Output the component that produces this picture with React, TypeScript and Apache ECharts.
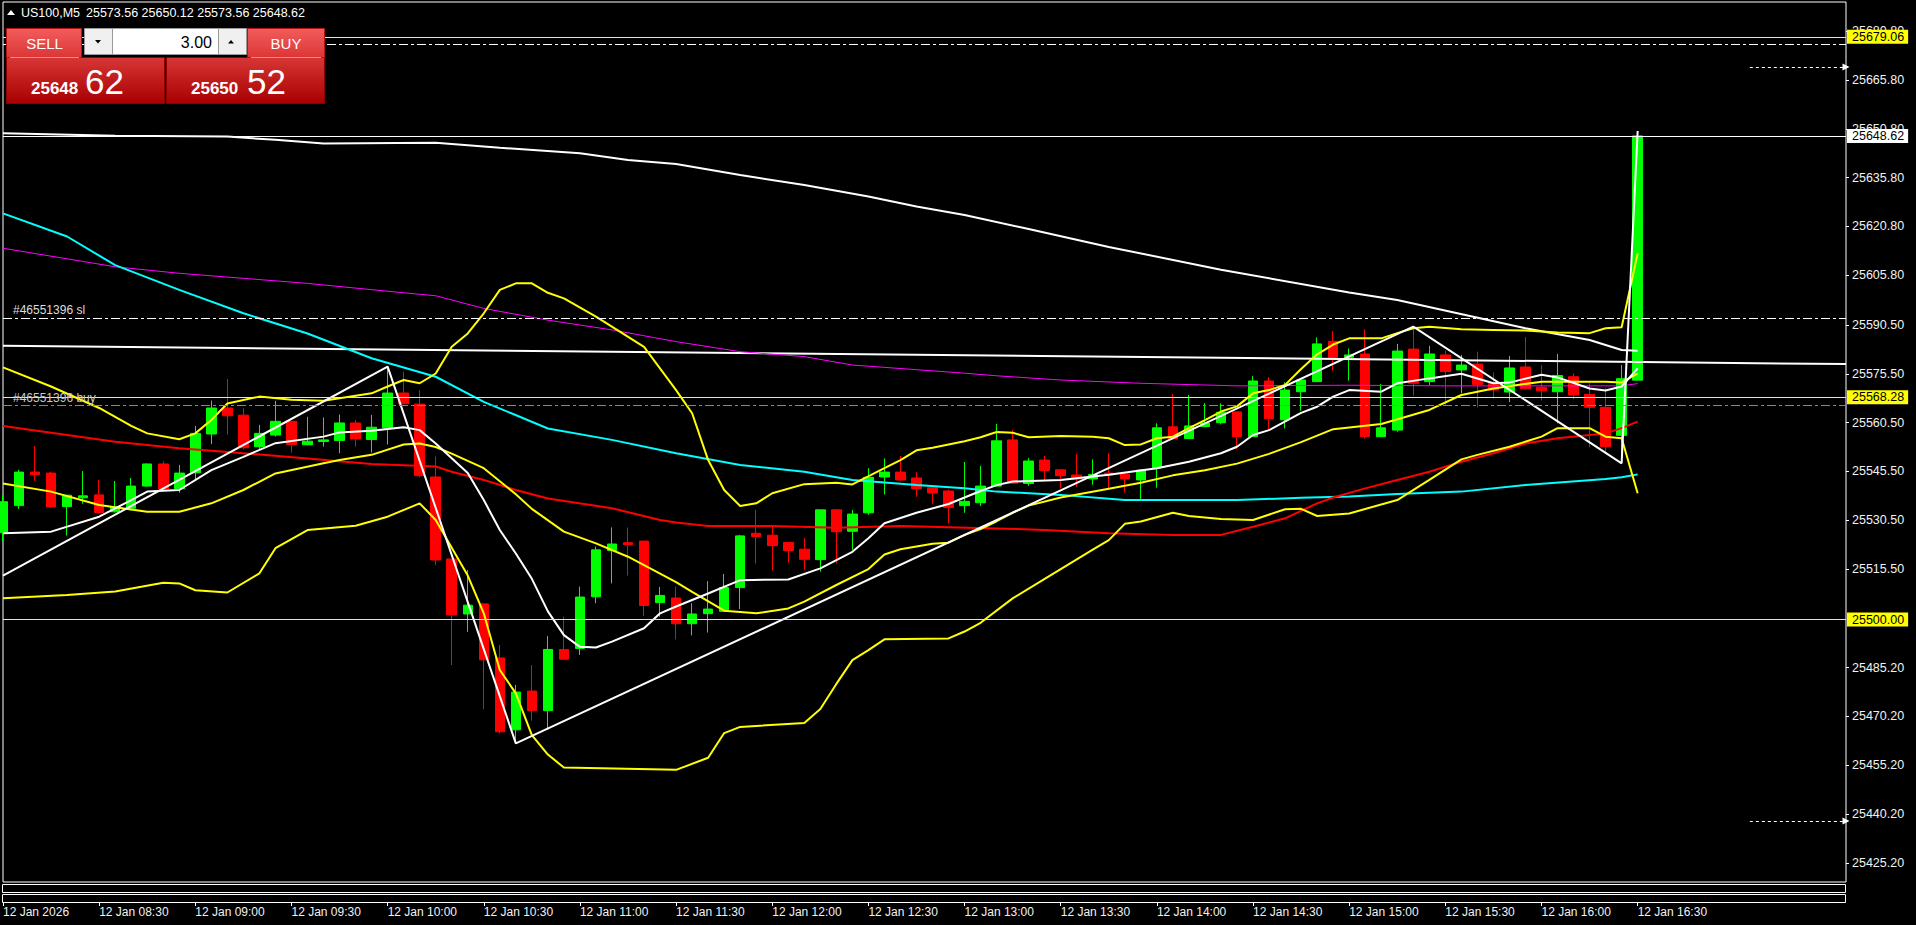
import React, { useEffect, useRef } from 'react';
import * as echarts from 'echarts';

const FONT = '"Liberation Sans", Arial, sans-serif';

// ---------- header / trade panel ----------
const symbolName = 'US100,M5';
const lotSize = '3.00';
const bidPrice = 25648.62;
const askPrice = 25650.52;

// ---------- axis ----------
const Y_MIN = 25419.33;
const Y_MAX = 25689.77;
const yTickValues = [25680.8, 25665.8, 25650.8, 25635.8, 25620.8, 25605.8, 25590.5, 25575.5, 25560.5, 25545.5, 25530.5, 25515.5, 25485.2, 25470.2, 25455.2, 25440.2, 25425.2];
const xTickLabels = ['12 Jan 2026', '12 Jan 08:30', '12 Jan 09:00', '12 Jan 09:30', '12 Jan 10:00', '12 Jan 10:30', '12 Jan 11:00', '12 Jan 11:30', '12 Jan 12:00', '12 Jan 12:30', '12 Jan 13:00', '12 Jan 13:30', '12 Jan 14:00', '12 Jan 14:30', '12 Jan 15:00', '12 Jan 15:30', '12 Jan 16:00', '12 Jan 16:30'];
const BAR_SLOTS = 116; // 103 bars + chart shift

// ---------- candles: [open, close, low, high] ----------
const candles = [
  [25526.7, 25536.2, 25523.9, 25538.3], [25535.0, 25545.3, 25534.0, 25546.0], [25545.3, 25544.5, 25542.6, 25553.3], [25545.0, 25534.6, 25534.3, 25545.4],
  [25534.7, 25538.2, 25525.8, 25538.2], [25537.4, 25538.0, 25535.6, 25545.6], [25538.3, 25532.9, 25532.6, 25542.9], [25533.1, 25534.6, 25532.9, 25542.6],
  [25534.2, 25541.0, 25533.5, 25543.5], [25541.0, 25547.8, 25540.8, 25548.0], [25547.8, 25540.1, 25539.8, 25548.6], [25540.2, 25545.0, 25539.0, 25547.5],
  [25545.1, 25557.2, 25543.1, 25559.5], [25557.0, 25565.0, 25553.9, 25567.3], [25565.0, 25562.6, 25556.8, 25573.9], [25562.8, 25552.8, 25552.3, 25564.9],
  [25553.1, 25557.2, 25552.1, 25559.8], [25556.7, 25560.9, 25556.2, 25567.2], [25560.9, 25553.8, 25551.3, 25561.0], [25553.7, 25554.8, 25553.5, 25562.3],
  [25554.7, 25555.2, 25553.1, 25562.1], [25555.0, 25560.4, 25551.1, 25563.0], [25560.4, 25555.5, 25553.1, 25561.3], [25555.3, 25559.1, 25551.3, 25562.9],
  [25558.9, 25569.6, 25553.8, 25577.7], [25569.6, 25566.3, 25566.2, 25576.2], [25566.2, 25544.2, 25543.7, 25570.5], [25543.8, 25518.3, 25516.8, 25550.1],
  [25518.6, 25501.4, 25486.0, 25518.6], [25501.7, 25504.4, 25496.2, 25515.2], [25504.8, 25487.6, 25472.4, 25505.0], [25488.2, 25465.5, 25465.0, 25492.2],
  [25466.1, 25477.7, 25461.95, 25479.9], [25478.0, 25472.0, 25468.9, 25486.0], [25472.0, 25490.8, 25466.1, 25494.9], [25490.8, 25487.8, 25487.7, 25500.9],
  [25491.1, 25506.9, 25489.1, 25510.1], [25507.0, 25521.4, 25505.0, 25522.4], [25521.2, 25523.2, 25511.1, 25528.3], [25523.6, 25523.0, 25513.5, 25528.3],
  [25524.1, 25504.3, 25501.1, 25524.2], [25505.2, 25507.4, 25500.9, 25510.0], [25506.6, 25498.7, 25493.9, 25510.1], [25498.7, 25501.7, 25495.1, 25505.0],
  [25501.8, 25503.2, 25496.0, 25511.8], [25502.5, 25509.8, 25502.4, 25514.0], [25509.8, 25525.7, 25503.2, 25526.0], [25526.5, 25525.5, 25517.2, 25533.7],
  [25525.9, 25522.7, 25515.0, 25528.9], [25523.7, 25521.2, 25517.5, 25523.8], [25521.6, 25518.5, 25515.2, 25525.0], [25518.4, 25533.7, 25514.7, 25533.7],
  [25533.7, 25527.0, 25517.2, 25534.0], [25527.1, 25532.4, 25521.4, 25533.7], [25532.8, 25543.7, 25532.2, 25546.5], [25543.8, 25545.3, 25538.4, 25549.5],
  [25545.3, 25542.9, 25542.5, 25550.3], [25543.5, 25540.2, 25537.7, 25545.3], [25540.5, 25538.9, 25535.6, 25540.6], [25539.5, 25534.4, 25529.5, 25540.0],
  [25535.0, 25536.3, 25532.8, 25548.4], [25535.9, 25541.0, 25534.9, 25547.2], [25541.0, 25554.9, 25540.9, 25560.1], [25555.2, 25541.9, 25541.7, 25558.2],
  [25541.8, 25548.7, 25541.1, 25549.6], [25549.0, 25545.8, 25542.9, 25550.3], [25546.0, 25544.2, 25540.3, 25546.1], [25544.4, 25543.2, 25540.8, 25550.9],
  [25543.2, 25544.6, 25541.4, 25549.2], [25545.0, 25544.4, 25540.3, 25551.1], [25544.7, 25543.2, 25539.0, 25544.8], [25542.9, 25545.9, 25536.9, 25546.2],
  [25546.6, 25558.9, 25540.5, 25560.3], [25559.2, 25555.5, 25555.4, 25569.3], [25555.6, 25559.5, 25555.5, 25569.0], [25559.3, 25560.4, 25559.1, 25566.5],
  [25560.5, 25563.7, 25560.0, 25566.4], [25563.8, 25556.2, 25552.3, 25563.9], [25556.2, 25573.3, 25556.1, 25574.8], [25573.3, 25561.7, 25558.2, 25574.5],
  [25561.4, 25570.5, 25558.7, 25572.9], [25570.0, 25573.6, 25564.2, 25573.7], [25573.1, 25584.7, 25573.0, 25586.7], [25585.5, 25580.5, 25576.5, 25588.6],
  [25580.6, 25581.3, 25573.4, 25583.3], [25581.6, 25556.2, 25555.6, 25589.2], [25556.2, 25558.9, 25556.1, 25572.4], [25558.2, 25582.5, 25557.7, 25584.7],
  [25583.1, 25572.6, 25568.8, 25590.0], [25573.1, 25581.6, 25572.1, 25584.1], [25581.3, 25576.2, 25565.8, 25582.6], [25576.7, 25578.2, 25569.5, 25581.3],
  [25578.5, 25572.2, 25565.2, 25582.3], [25572.6, 25570.5, 25567.9, 25575.9], [25569.9, 25577.3, 25566.8, 25581.0], [25577.6, 25570.9, 25570.7, 25586.8],
  [25571.4, 25570.3, 25567.3, 25578.2], [25570.0, 25575.0, 25560.3, 25581.6], [25574.6, 25569.0, 25567.7, 25575.7], [25569.2, 25565.2, 25552.9, 25572.6],
  [25565.2, 25553.1, 25551.6, 25571.2], [25556.6, 25574.0, 25548.0, 25578.2], [25573.56, 25648.62, 25573.56, 25650.12],
];

// ---------- indicator lines: [barIndex, value] ----------
const bbUpper = [[0, 25577.5], [3, 25571.6], [6, 25565.0], [8, 25559.5], [9, 25557.2], [11, 25555.4], [12, 25557.2], [13, 25561.3], [14, 25566.4], [16, 25568.5], [18, 25567.5], [20, 25567.2], [23, 25569.5], [24, 25571.6], [25, 25573.6], [26, 25572.6], [27, 25575.6], [28, 25583.8], [29, 25587.9], [30, 25594.1], [31, 25601.3], [32, 25603.3], [33, 25603.3], [34, 25600.4], [35, 25598.7], [37, 25593.1], [40, 25583.8], [42, 25570.5], [43, 25563.4], [44, 25549.0], [45, 25539.8], [46, 25534.9], [47, 25535.7], [48, 25538.8], [50, 25541.6], [52, 25542.0], [53, 25541.5], [55, 25546.5], [56, 25549.0], [57, 25552.0], [58, 25552.8], [60, 25554.8], [61, 25556.0], [62, 25557.6], [63, 25557.4], [64, 25556.0], [66, 25556.4], [68, 25556.2], [69, 25555.7], [70, 25553.6], [71, 25553.8], [72, 25555.7], [73, 25556.2], [74, 25558.8], [75, 25561.3], [76, 25563.9], [77, 25565.5], [78, 25569.5], [79, 25570.5], [80, 25572.1], [81, 25577.0], [82, 25581.5], [83, 25584.5], [84, 25586.4], [86, 25586.4], [87, 25588.0], [88, 25589.5], [89, 25590.0], [91, 25589.2], [93, 25589.0], [95, 25588.8], [97, 25588.2], [99, 25588.0], [100, 25589.5], [101, 25589.8], [102, 25612.5]];
const bbMiddle = [[0, 25541.8], [3, 25539.3], [6, 25535.2], [9, 25533.1], [11, 25533.1], [13, 25535.7], [15, 25539.8], [17, 25544.9], [20, 25548.0], [21, 25549.0], [23, 25550.6], [25, 25553.8], [26, 25554.1], [27, 25553.0], [28, 25551.0], [30, 25546.5], [32, 25538.5], [33, 25534.0], [35, 25527.0], [37, 25523.4], [39, 25519.3], [42, 25511.5], [43, 25508.5], [45, 25502.7], [47, 25501.9], [49, 25503.4], [50, 25505.5], [52, 25510.6], [54, 25515.5], [55, 25520.0], [56, 25521.6], [58, 25523.3], [59, 25523.6], [60, 25526.0], [61, 25527.8], [62, 25530.2], [63, 25532.8], [64, 25535.0], [66, 25537.5], [69, 25540.2], [71, 25542.0], [73, 25544.3], [75, 25545.9], [77, 25547.9], [79, 25550.9], [81, 25554.5], [83, 25558.5], [86, 25560.1], [89, 25564.4], [91, 25569.0], [93, 25571.0], [96, 25573.1], [100, 25573.1], [101, 25572.8], [102, 25575.6]];
const bbLower = [[0, 25506.5], [4, 25507.5], [7, 25508.6], [10, 25511.3], [11, 25511.1], [12, 25509.0], [14, 25508.3], [16, 25514.2], [17, 25521.9], [19, 25527.5], [22, 25528.8], [24, 25531.6], [26, 25535.7], [27, 25530.6], [29, 25513.5], [30, 25501.9], [31, 25484.5], [32, 25477.3], [33, 25464.5], [34, 25458.5], [35, 25454.5], [42, 25453.8], [44, 25457.5], [45, 25465.1], [46, 25467.0], [50, 25468.2], [51, 25472.5], [52, 25480.2], [53, 25487.5], [54, 25490.6], [55, 25493.9], [59, 25494.2], [60, 25496.3], [61, 25499.0], [63, 25506.5], [65, 25512.5], [66, 25515.5], [68, 25521.5], [69, 25524.4], [70, 25529.4], [71, 25530.1], [73, 25532.8], [74, 25531.8], [76, 25530.9], [78, 25530.6], [80, 25533.9], [81, 25534.0], [82, 25531.8], [84, 25532.6], [87, 25536.7], [89, 25542.9], [91, 25549.2], [92, 25550.6], [94, 25553.1], [96, 25556.2], [97, 25558.8], [99, 25558.8], [100, 25556.2], [101, 25555.7], [102, 25538.8]];
const fastMA = [[0, 25526.5], [3, 25527.0], [6, 25531.6], [8, 25536.7], [9, 25539.3], [11, 25539.8], [13, 25545.9], [15, 25550.0], [17, 25554.2], [20, 25556.2], [21, 25557.5], [23, 25558.0], [25, 25559.1], [26, 25558.2], [27, 25554.1], [29, 25545.0], [30, 25536.7], [31, 25527.5], [32, 25520.3], [33, 25512.5], [34, 25502.5], [35, 25495.2], [36, 25491.6], [37, 25491.4], [38, 25493.2], [40, 25497.3], [41, 25501.9], [42, 25504.0], [44, 25508.0], [46, 25512.1], [49, 25512.3], [51, 25515.7], [53, 25520.8], [54, 25525.0], [55, 25529.6], [57, 25532.8], [59, 25535.5], [61, 25539.5], [62, 25541.3], [63, 25542.4], [66, 25542.9], [69, 25544.5], [72, 25546.5], [74, 25548.5], [76, 25551.1], [77, 25553.1], [78, 25556.7], [79, 25558.2], [81, 25563.5], [82, 25565.4], [83, 25568.5], [84, 25570.5], [86, 25570.0], [87, 25572.6], [89, 25574.1], [91, 25575.5], [93, 25572.6], [94, 25572.8], [96, 25575.2], [97, 25574.4], [99, 25571.0], [100, 25570.4], [101, 25571.6], [102, 25577.2]];
const redMA = [[0, 25559.5], [4, 25556.7], [7, 25554.6], [11, 25552.6], [15, 25551.1], [19, 25549.5], [23, 25547.8], [27, 25547.0], [28, 25545.4], [30, 25542.9], [32, 25539.8], [34, 25537.2], [38, 25534.2], [41, 25530.6], [42, 25529.8], [44, 25528.7], [48, 25528.7], [52, 25528.2], [56, 25528.7], [62, 25528.0], [65, 25527.5], [69, 25526.5], [73, 25526.0], [76, 25526.0], [78, 25528.5], [80, 25531.1], [82, 25535.7], [83, 25537.5], [85, 25540.3], [87, 25542.9], [89, 25545.4], [91, 25548.5], [93, 25551.1], [95, 25554.1], [97, 25555.7], [100, 25557.2], [101, 25558.8], [102, 25560.8]];
const cyanMA = [[0, 25624.8], [4, 25617.7], [7, 25608.9], [11, 25601.3], [15, 25594.1], [19, 25587.9], [23, 25580.3], [27, 25574.6], [30, 25566.9], [34, 25558.7], [38, 25555.2], [42, 25551.1], [46, 25547.5], [50, 25545.4], [53, 25542.9], [57, 25541.3], [60, 25540.3], [62, 25539.3], [66, 25538.3], [70, 25536.7], [77, 25536.7], [81, 25537.4], [84, 25537.8], [87, 25538.6], [91, 25539.3], [95, 25541.3], [100, 25543.2], [101, 25543.7], [102, 25544.6]];
const magentaMA = [[0, 25614.1], [7, 25608.4], [11, 25606.4], [19, 25603.3], [25, 25600.4], [27, 25599.5], [30, 25595.6], [34, 25592.0], [38, 25589.0], [42, 25585.4], [46, 25582.3], [50, 25580.8], [53, 25578.2], [60, 25575.7], [62, 25574.9], [66, 25573.6], [71, 25572.6], [77, 25571.8], [84, 25572.0], [90, 25571.8], [101, 25571.8], [102, 25572.5]];
const slowWhiteMA = [[0, 25649.4], [7, 25648.7], [14, 25648.4], [17, 25647.4], [20, 25646.3], [27, 25646.5], [31, 25645.0], [36, 25643.3], [39, 25641.2], [42, 25640.0], [46, 25636.6], [50, 25633.5], [54, 25630.0], [57, 25626.9], [60, 25624.3], [64, 25620.0], [69, 25614.5], [76, 25607.5], [84, 25600.5], [87, 25598.2], [95, 25589.5], [99, 25585.9], [101, 25582.8], [102, 25582.6]];
const zigzag = [[0, 25513.5], [24, 25577.7], [32, 25461.95], [88, 25590.0], [101, 25548.0], [102, 25650.12]];
const trendLine = [[0, 25584.15], [115, 25578.5]];

// ---------- horizontal levels ----------
const alertLevel = 25679.06;
const tpLevel = 25676.9;
const slLevel = 25592.7;
const yellowLevel = 25568.28;
const buyLevel = 25565.9;
const roundLevel = 25500.0;
const rangeTop = 25669.8;
const rangeBottom = 25438.1;
const rangeFrom = 109;
const rangeTo = 115;
const orderId = '#46551396';

const categories: string[] = [];
for (let i = 0; i < BAR_SLOTS; i++) {
  const m = 8 * 60 + i * 5;
  categories.push(String(Math.floor(m / 60)).padStart(2, '0') + ':' + String(m % 60).padStart(2, '0'));
}

const grad = (c1: string, c2: string) => ({ type: 'linear', x: 0, y: 0, x2: 0, y2: 1, colorStops: [{ offset: 0, color: c1 }, { offset: 1, color: c2 }] });

function priceBox(v: number, bg: string) {
  return {
    show: true, position: 'end', formatter: v.toFixed(2), backgroundColor: bg, color: '#000',
    padding: [1, 4, 0, 5], distance: 1, fontSize: 12.5, lineHeight: 13, fontFamily: FONT,
  };
}

function lineSeries(name: string, data: number[][], color: string, width: number) {
  return {
    name, type: 'line', data, showSymbol: false, symbol: 'none', silent: true, z: 3,
    lineStyle: { color, width }, smooth: false,
  };
}

export default function App() {
  const ref = useRef<HTMLDivElement>(null);
  useEffect(() => {
    const chart = echarts.init(ref.current!, null, { renderer: 'svg' });
    const last = candles[candles.length - 1];
    const ohlcText = [last[0], last[3], last[2], last[1]].map((v) => v.toFixed(2)).join(' ');
    const [bidBig, bidSmall] = bidPrice.toFixed(2).split('.');
    const [askBig, askSmall] = askPrice.toFixed(2).split('.');
    const showTick = (idx: number) => idx % 6 === 0 && idx / 6 < xTickLabels.length;
    const dashDot = [9, 3, 3, 3];

    const option: any = {
      animation: false,
      backgroundColor: '#000',
      textStyle: { fontFamily: FONT },
      grid: { left: 2, top: 2, width: 1844, height: 880, show: true, borderColor: '#ffffff', borderWidth: 1, backgroundColor: '#000' },
      xAxis: {
        type: 'category', data: categories, boundaryGap: false, offset: 20,
        axisLine: { show: false },
        axisTick: { show: true, interval: (i: number) => showTick(i), length: 4, lineStyle: { color: '#ffffff' } },
        axisLabel: {
          interval: (i: number) => showTick(i), formatter: (_v: string, i: number) => xTickLabels[i / 6] || '',
          align: 'left', color: '#f2f2f2', fontSize: 12, fontFamily: FONT, margin: 4,
        },
        splitLine: { show: false },
      },
      yAxis: {
        type: 'value', position: 'right', min: Y_MIN, max: Y_MAX,
        axisLine: { show: false },
        axisTick: { show: true, customValues: yTickValues, length: 3, lineStyle: { color: '#ffffff' } },
        axisLabel: { customValues: yTickValues, formatter: (v: number) => v.toFixed(2), color: '#f2f2f2', fontSize: 12.5, fontFamily: FONT, margin: 6 },
        splitLine: { show: false },
      },
      series: [
        {
          name: 'US100', type: 'candlestick', data: candles, barWidth: 10, z: 1, silent: true,
          itemStyle: { color: '#00ff00', color0: '#ff0000', borderColor: '#00ff00', borderColor0: '#ff0000', borderWidth: 1 },
          markLine: {
            silent: true, symbol: ['none', 'none'], animation: false,
            label: { show: false },
            data: [
              { yAxis: alertLevel, lineStyle: { color: '#ffff00', type: 'solid', width: 1 }, label: priceBox(alertLevel, '#ffff00') },
              { yAxis: tpLevel, lineStyle: { color: '#ffffff', type: dashDot, width: 1 }, label: { show: false } },
              { yAxis: bidPrice, lineStyle: { color: '#ffffff', type: 'solid', width: 1 }, label: priceBox(bidPrice, '#ffffff') },
              {
                yAxis: slLevel, lineStyle: { color: '#ffffff', type: dashDot, width: 1 },
                label: { show: true, position: 'insideStartTop', formatter: orderId + ' sl', color: '#dcdcdc', fontSize: 12, fontFamily: FONT, distance: [10, 2] },
              },
              { yAxis: yellowLevel, lineStyle: { color: '#ffff00', type: 'solid', width: 1 }, label: priceBox(yellowLevel, '#ffff00') },
              {
                yAxis: buyLevel, lineStyle: { color: '#22cc22', type: dashDot, width: 1 },
                label: { show: true, position: 'insideStartTop', formatter: orderId + ' buy', color: '#c8c8c8', fontSize: 12, fontFamily: FONT, distance: [10, 1] },
              },
              { yAxis: roundLevel, lineStyle: { color: '#ffff00', type: 'solid', width: 1 }, label: priceBox(roundLevel, '#ffff00') },
              [
                { coord: [rangeFrom, rangeTop], symbol: 'none', lineStyle: { color: '#ffffff', type: [3, 3], width: 1 }, label: { show: false } },
                { coord: [rangeTo, rangeTop], symbol: 'triangle', symbolSize: [7, 7], symbolRotate: -90 },
              ],
              [
                { coord: [rangeFrom, rangeBottom], symbol: 'none', lineStyle: { color: '#ffffff', type: [3, 3], width: 1 }, label: { show: false } },
                { coord: [rangeTo, rangeBottom], symbol: 'triangle', symbolSize: [7, 7], symbolRotate: -90 },
              ],
            ],
          },
        },
        lineSeries('slow white MA', slowWhiteMA, '#ffffff', 2),
        lineSeries('trend', trendLine, '#ffffff', 2),
        lineSeries('magenta MA', magentaMA, '#ff00ff', 1),
        lineSeries('cyan MA', cyanMA, '#00ffff', 2),
        lineSeries('red MA', redMA, '#ff0000', 2),
        lineSeries('BB upper', bbUpper, '#ffff00', 2),
        lineSeries('BB middle', bbMiddle, '#ffff00', 2),
        lineSeries('BB lower', bbLower, '#ffff00', 2),
        lineSeries('fast MA', fastMA, '#ffffff', 2),
        lineSeries('ZigZag', zigzag, '#ffffff', 2),
      ],
      graphic: [
        // empty indicator sub-windows
        { type: 'rect', z: 50, shape: { x: 2.5, y: 884.5, width: 1843, height: 8 }, style: { fill: '#000', stroke: '#ffffff', lineWidth: 1 } },
        { type: 'rect', z: 50, shape: { x: 2.5, y: 894.5, width: 1843, height: 8 }, style: { fill: '#000', stroke: '#ffffff', lineWidth: 1 } },
        // header
        { type: 'polygon', z: 100, shape: { points: [[7, 15], [11, 10], [15, 15]] }, style: { fill: '#ffffff' } },
        { type: 'text', z: 100, x: 21, y: 13, style: { text: symbolName, fill: '#ffffff', font: `12.5px ${FONT}`, verticalAlign: 'middle' } },
        { type: 'text', z: 100, x: 86, y: 13, style: { text: ohlcText, fill: '#ffffff', font: `12.5px ${FONT}`, verticalAlign: 'middle' } },
        // one-click trading panel
        { type: 'rect', z: 100, shape: { x: 6.5, y: 57.5, width: 158, height: 46 }, style: { fill: grad('#d83636', '#a80000'), stroke: '#8e0000', lineWidth: 1 } },
        { type: 'rect', z: 100, shape: { x: 166.5, y: 57.5, width: 158, height: 46 }, style: { fill: grad('#d83636', '#a80000'), stroke: '#8e0000', lineWidth: 1 } },
        { type: 'rect', z: 101, shape: { x: 6.5, y: 28.5, width: 75, height: 29 }, style: { fill: grad('#f25c5c', '#dc3636'), stroke: '#b51414', lineWidth: 1 } },
        { type: 'rect', z: 101, shape: { x: 247.5, y: 28.5, width: 77, height: 29 }, style: { fill: grad('#f25c5c', '#dc3636'), stroke: '#b51414', lineWidth: 1 } },
        { type: 'line', z: 102, shape: { x1: 10, y1: 57.5, x2: 79, y2: 57.5 }, style: { stroke: '#f08a8a', lineWidth: 1 } },
        { type: 'line', z: 102, shape: { x1: 251, y1: 57.5, x2: 321, y2: 57.5 }, style: { stroke: '#f08a8a', lineWidth: 1 } },
        { type: 'rect', z: 101, shape: { x: 84.5, y: 28.5, width: 162, height: 26 }, style: { fill: '#f0f0f0', stroke: '#9a9a9a', lineWidth: 1 } },
        { type: 'rect', z: 102, shape: { x: 112.5, y: 28.5, width: 106, height: 26 }, style: { fill: '#ffffff', stroke: '#9a9a9a', lineWidth: 1 } },
        { type: 'polygon', z: 103, shape: { points: [[95, 40], [101, 40], [98, 43.5]] }, style: { fill: '#000' } },
        { type: 'polygon', z: 103, shape: { points: [[228, 43.5], [234, 43.5], [231, 40]] }, style: { fill: '#000' } },
        { type: 'text', z: 103, x: 212, y: 42, style: { text: lotSize, fill: '#000', font: `16px ${FONT}`, align: 'right', verticalAlign: 'middle' } },
        { type: 'text', z: 103, x: 44.5, y: 43.5, style: { text: 'SELL', fill: '#ffffff', font: `15px ${FONT}`, align: 'center', verticalAlign: 'middle' } },
        { type: 'text', z: 103, x: 286, y: 43.5, style: { text: 'BUY', fill: '#ffffff', font: `15px ${FONT}`, align: 'center', verticalAlign: 'middle' } },
        { type: 'text', z: 103, x: 31, y: 88, style: { text: bidBig, fill: '#ffffff', font: `bold 17px ${FONT}`, verticalAlign: 'middle' } },
        { type: 'text', z: 103, x: 85, y: 81, style: { text: bidSmall, fill: '#ffffff', font: `35px ${FONT}`, verticalAlign: 'middle' } },
        { type: 'text', z: 103, x: 191, y: 88, style: { text: askBig, fill: '#ffffff', font: `bold 17px ${FONT}`, verticalAlign: 'middle' } },
        { type: 'text', z: 103, x: 247, y: 81, style: { text: askSmall, fill: '#ffffff', font: `35px ${FONT}`, verticalAlign: 'middle' } },
      ],
    };
    chart.setOption(option);
    return () => chart.dispose();
  }, []);
  return <div ref={ref} style={{ position: 'fixed', left: 0, top: 0, width: 1916, height: 925, background: '#000' }} />;
}
